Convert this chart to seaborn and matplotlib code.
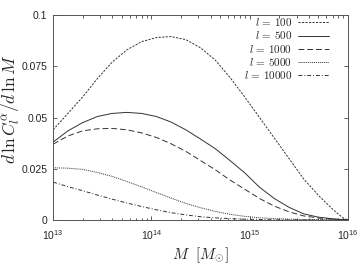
import numpy as np
import pandas as pd
import matplotlib
matplotlib.use("Agg")
import matplotlib.pyplot as plt
import matplotlib.ticker as mticker
import seaborn as sns

# log10(M) and d ln C / d ln M for each multipole
ell_labels = ["100", "500", "1000", "5000", "10000"]

logm_100 = [13.0, 13.15, 13.3, 13.45, 13.6, 13.75, 13.9, 14.05, 14.2, 14.35, 14.5, 14.65, 14.8,
            14.95, 15.1, 15.25, 15.4, 15.55, 15.7, 15.85, 15.95, 16.0]
dlnc_100 = [0.044, 0.052, 0.060, 0.069, 0.077, 0.083, 0.087, 0.089, 0.0895, 0.088, 0.084, 0.078, 0.0695,
            0.060, 0.050, 0.040, 0.030, 0.020, 0.012, 0.005, 0.001, 0.0]

logm_500 = [13.0, 13.15, 13.3, 13.45, 13.6, 13.75, 13.9, 14.05, 14.2, 14.35, 14.5, 14.65, 14.8,
            14.95, 15.1, 15.25, 15.4, 15.55, 15.7, 15.85, 16.0]
dlnc_500 = [0.038, 0.0435, 0.0475, 0.0505, 0.052, 0.0525, 0.052, 0.0505, 0.0478, 0.044, 0.0395, 0.0348, 0.029,
            0.023, 0.016, 0.0105, 0.0062, 0.003, 0.0014, 0.0006, 0.0]

logm_1000 = [13.0, 13.15, 13.3, 13.45, 13.6, 13.75, 13.9, 14.05, 14.2, 14.35, 14.5, 14.65, 14.8,
             14.95, 15.1, 15.25, 15.4, 15.55, 15.7, 15.85, 16.0]
dlnc_1000 = [0.037, 0.041, 0.0435, 0.0445, 0.0447, 0.044, 0.0425, 0.0403, 0.0372, 0.0335, 0.029, 0.0245, 0.0195,
             0.015, 0.0105, 0.0068, 0.004, 0.002, 0.001, 0.0004, 0.0]

logm_5000 = [13.0, 13.15, 13.3, 13.45, 13.6, 13.75, 13.9, 14.05, 14.2, 14.35, 14.5, 14.65, 14.8,
             14.95, 15.1, 15.3, 15.6, 16.0]
dlnc_5000 = [0.0255, 0.0253, 0.0247, 0.0232, 0.0213, 0.0188, 0.0162, 0.0134, 0.0107, 0.0081, 0.006, 0.0042, 0.0028,
             0.0018, 0.0011, 0.0006, 0.0002, 0.0]

logm_10000 = [13.0, 13.15, 13.3, 13.45, 13.6, 13.75, 13.9, 14.05, 14.2, 14.35, 14.5, 14.7, 14.95, 15.3, 16.0]
dlnc_10000 = [0.0185, 0.0163, 0.0143, 0.0122, 0.0102, 0.0083, 0.0066, 0.005, 0.0036, 0.0025, 0.0016, 0.0009,
              0.0004, 0.0001, 0.0]

x_ticks = [1e13, 1e14, 1e15, 1e16]
y_ticks = [0, 0.025, 0.05, 0.075, 0.1]


def main():
    sns.set_style("ticks")
    plt.rcParams["mathtext.fontset"] = "custom"
    plt.rcParams["mathtext.rm"] = "cmr10"
    plt.rcParams["mathtext.it"] = "cmmi10"
    plt.rcParams["mathtext.bf"] = "cmb10"
    plt.rcParams["mathtext.sf"] = "Liberation Sans"
    plt.rcParams["font.family"] = ["Liberation Sans", "DejaVu Sans"]

    series = [
        (logm_100, dlnc_100, (0, (2.2, 1.4))),
        (logm_500, dlnc_500, "-"),
        (logm_1000, dlnc_1000, (0, (6, 3))),
        (logm_5000, dlnc_5000, (0, (1, 1))),
        (logm_10000, dlnc_10000, (0, (4, 2, 1, 2))),
    ]

    fig = plt.figure(figsize=(3.64, 2.73), dpi=100)
    ax = fig.add_axes([0.146, 0.194, 0.81, 0.751])

    for (lm, dl, ls), lab in zip(series, ell_labels):
        df = pd.DataFrame({"M": 10 ** np.array(lm), "d": dl})
        sns.lineplot(data=df, x="M", y="d", ax=ax, color="#333333", lw=0.7,
                     linestyle=ls, label=r"$l\,=\,\mathrm{%s}$" % lab)

    ax.set_xscale("log")
    ax.set_xlim(1e13, 1e16)
    ax.set_ylim(0, 0.1)
    ax.set_xticks(x_ticks)
    ax.set_yticks(y_ticks)
    ax.xaxis.set_major_formatter(mticker.FuncFormatter(
        lambda v, p: r"$\mathsf{10^{%d}}$" % round(np.log10(v))))
    ax.yaxis.set_major_formatter(mticker.FuncFormatter(lambda v, p: "%g" % v))
    ax.tick_params(which="both", direction="in", top=True, right=True,
                   labelsize=7.5, color="#444444", width=0.6)
    ax.tick_params(which="major", length=3, pad=4)
    ax.tick_params(axis="x", which="major", pad=6)
    ax.tick_params(which="minor", length=1.8)
    for sp in ax.spines.values():
        sp.set_linewidth(0.7)
        sp.set_color("#555555")

    ax.set_xlabel(r"$M\ \ [M_{\odot}]$", fontsize=11, labelpad=2)
    ax.set_ylabel(r"$d\,\ln C_l^{\alpha}/d\,\ln M$", fontsize=12.5, labelpad=0)
    ax.yaxis.set_label_coords(-0.105, 0.54)

    ax.legend(loc="upper right", bbox_to_anchor=(0.95, 1.015), frameon=False,
              markerfirst=False, fontsize=8, handlelength=2.8, labelspacing=0.1,
              borderaxespad=0.0, handletextpad=0.5)

    fig.savefig("out.png", dpi=100)


if __name__ == "__main__":
    main()
